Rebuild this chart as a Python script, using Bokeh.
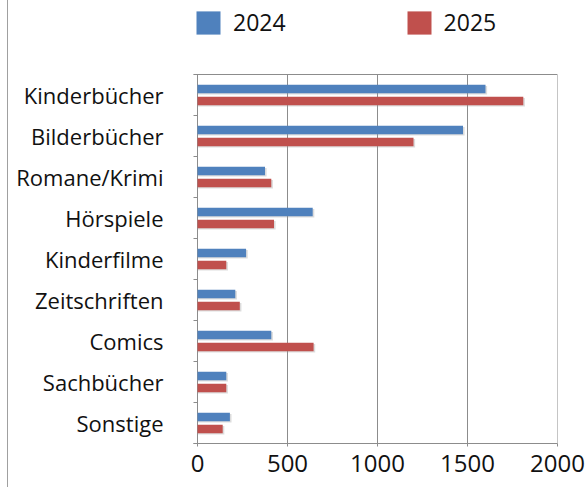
from bokeh.plotting import figure
from bokeh.models import (ColumnDataSource, Range1d, LinearAxis, FixedTicker,
                          Legend, LegendItem, Div, Span)
from bokeh.layouts import row
from bokeh.transform import dodge
from bokeh.embed import file_html
from bokeh.resources import INLINE

categories = ["Kinderbücher", "Bilderbücher", "Romane/Krimi", "Hörspiele",
              "Kinderfilme", "Zeitschriften", "Comics", "Sachbücher", "Sonstige"]
values_2024 = [1600, 1475, 375, 640, 270, 210, 410, 160, 180]
values_2025 = [1810, 1200, 410, 425, 160, 235, 645, 160, 140]
series_names = ["2024", "2025"]
x_ticks = [0, 500, 1000, 1500, 2000]

FONT = "Open Sans"
BLUE = "#4F81BD"
RED = "#C0504D"
GRAY = "#8c8c8c"

n = len(categories)
pos = list(range(1, n + 1))
src = ColumnDataSource(dict(y=pos, v24=values_2024, v25=values_2025))

# layout numbers (pixels): chart area top 74, bottom 443 in a 487 high canvas,
# value 0 at 4 px right of the frame's left edge, 360 px for the value axis
TOP_PX, BOTTOM_PX = 74, 443
unit = (BOTTOM_PX - TOP_PX) / n
y_top = 0.5 - TOP_PX / unit
x_max = x_ticks[-1]
x_pad = x_max * 4 / 360

p = figure(width=578, height=487, output_backend="svg", toolbar_location=None,
           x_range=Range1d(-x_pad, x_max), y_range=Range1d(n + 0.5, y_top),
           x_axis_location=None, y_axis_location=None,
           min_border_left=185, min_border_right=29, min_border_top=0,
           min_border_bottom=487 - BOTTOM_PX)
p.outline_line_color = None
p.background_fill_color = "white"
p.border_fill_color = "white"
p.xgrid.visible = False
p.ygrid.visible = False

# vertical grid lines (incl. the value-0 axis line), limited to the chart area
grid_src = ColumnDataSource(dict(x=x_ticks, y0=[0.5] * len(x_ticks),
                                 y1=[n + 0.5] * len(x_ticks)))
p.segment(x0="x", x1="x", y0="y0", y1="y1", source=grid_src,
          line_color=GRAY, line_width=1)
p.add_layout(Span(location=0.5, dimension="width", line_color=GRAY, line_width=1))

# soft shadows
for col, off in (("v24", -0.147), ("v25", 0.147)):
    p.hbar(y=dodge("y", off + 0.03, range=p.y_range),
           right=dodge(col, 9, range=p.x_range), left=0,
           height=0.205, source=src, fill_color="#9a9a9a", fill_alpha=0.35,
           line_color=None)

# bars
r24 = p.hbar(y=dodge("y", -0.147, range=p.y_range), right="v24", left=0,
             height=0.205, source=src, fill_color=BLUE, line_color=None)
r25 = p.hbar(y=dodge("y", 0.147, range=p.y_range), right="v25", left=0,
             height=0.205, source=src, fill_color=RED, line_color=None)

# x axis
xa = LinearAxis(ticker=FixedTicker(ticks=x_ticks))
xa.axis_line_color = GRAY
xa.major_tick_line_color = GRAY
xa.major_tick_out = 3
xa.major_tick_in = 0
xa.minor_tick_line_color = None
xa.major_label_standoff = 8
xa.major_label_text_font = FONT
xa.major_label_text_font_size = "24px"
xa.major_label_text_color = "#111111"
p.add_layout(xa, "below")

# y tick axis (category boundaries), small ticks left of the value-0 line
ya_ticks = LinearAxis(ticker=FixedTicker(ticks=[i + 0.5 for i in range(n + 1)]),
                      bounds=(0.5, n + 0.5))
ya_ticks.axis_line_color = None
ya_ticks.major_tick_line_color = GRAY
ya_ticks.major_tick_out = 0
ya_ticks.major_tick_in = 4
ya_ticks.minor_tick_line_color = None
ya_ticks.major_label_text_font_size = "0px"
ya_ticks.major_label_text_color = None
ya_ticks.major_label_standoff = 0
p.add_layout(ya_ticks, "left")

# y label axis
ya = LinearAxis(ticker=FixedTicker(ticks=pos))
ya.axis_line_color = None
ya.major_tick_line_color = None
ya.minor_tick_line_color = None
ya.major_label_overrides = {i: c for i, c in zip(pos, categories)}
ya.major_label_standoff = 24
ya.major_label_text_font = FONT
ya.major_label_text_font_size = "22px"
ya.major_label_text_color = "#111111"
p.add_layout(ya, "left")

legend = Legend(items=[LegendItem(label=series_names[0], renderers=[r24]),
                       LegendItem(label=series_names[1], renderers=[r25])],
                orientation="horizontal", location=(0, 405),
                glyph_width=30, glyph_height=29, label_standoff=10, spacing=118,
                padding=0, margin=0, border_line_color=None,
                background_fill_alpha=0,
                label_text_font=FONT, label_text_font_size="23px",
                label_text_color="#111111")
p.add_layout(legend, "center")

edge = Div(text="", width=8, height=487, margin=0,
           styles={"border-right": "1px solid #a0a0a0", "box-sizing": "border-box"})
layout = row(edge, p, spacing=0)

open("out.html", "w").write(file_html(layout, INLINE))
